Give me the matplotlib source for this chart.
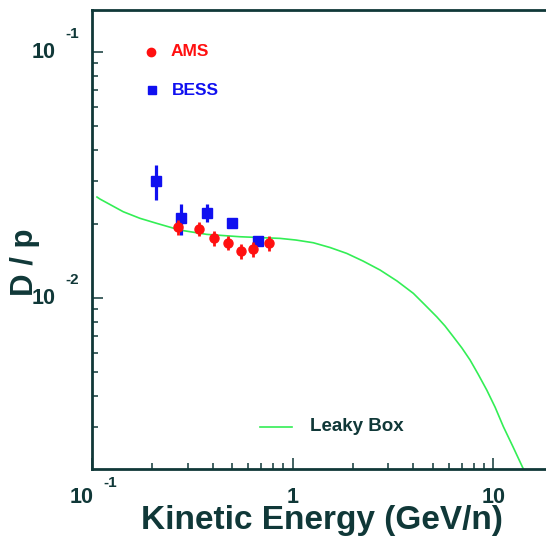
import numpy as np
import matplotlib
matplotlib.use("Agg")
import matplotlib.pyplot as plt
from matplotlib.ticker import LogLocator, NullFormatter

plt.rcParams['font.family'] = ['Liberation Sans', 'DejaVu Sans']
plt.rcParams['font.weight'] = 'bold'
plt.rcParams['axes.labelweight'] = 'bold'

# AMS points
ams_x = [0.269, 0.343, 0.407, 0.479, 0.556, 0.638, 0.767]
ams_y = [0.0194, 0.0191, 0.01754, 0.01674, 0.01553, 0.0158, 0.01674]
ams_err = [0.0013, 0.0012, 0.0012, 0.0011, 0.0011, 0.0011, 0.0012]

# BESS points
bess_x = [0.208, 0.277, 0.373, 0.498, 0.675]
bess_y = [0.0299, 0.0211, 0.0222, 0.0201, 0.01705]
bess_err = [0.0048, 0.0031, 0.0019, 0.0009, 0.0008]

# Leaky Box curve
lb_x = [0.1059, 0.1096, 0.1432, 0.1735, 0.2103, 0.2748, 0.3733, 0.547, 0.866,
        1.041, 1.27, 1.538, 1.863, 2.247, 2.732, 3.32, 4.004, 4.58, 5.239, 5.76,
        6.339, 7.0, 7.68, 8.42, 9.30, 10.24, 11.26, 12.59, 14.16, 15.0]
lb_y = [0.02574, 0.02526, 0.02243, 0.02109, 0.02012, 0.01889, 0.01815, 0.01775,
        0.01748, 0.01721, 0.01678, 0.01605, 0.01519, 0.01414, 0.0130, 0.01173,
        0.01045, 0.00937, 0.00839, 0.0077, 0.00696, 0.00626, 0.0056, 0.00491,
        0.00423, 0.0036, 0.0030, 0.00248, 0.00202, 0.0018]

dark = '#103838'
red = '#ff1010'
blue = '#1010f0'
green = '#33ee55'

W, H = 546, 539
fig = plt.figure(figsize=(W / 100, H / 100), dpi=100)
ax = fig.add_axes([92 / W, (H - 469) / H, 461.4 / W, 459 / H])

ax.set_xscale('log')
ax.set_yscale('log')
ax.set_xlim(0.1, 20)
ax.set_ylim(10 ** (-2.695), 10 ** (-0.829))

ax.plot(lb_x, lb_y, color=green, lw=1.2, zorder=2)
ax.errorbar(bess_x, bess_y, yerr=bess_err, fmt='s', color=blue, ms=7.5,
            elinewidth=2.3, capsize=0, zorder=3)
ax.errorbar(ams_x, ams_y, yerr=ams_err, fmt='o', color=red, ms=6.5,
            elinewidth=2.0, capsize=0, zorder=4)

# spines and ticks
for s in ['left', 'bottom', 'top']:
    ax.spines[s].set_color(dark)
    ax.spines[s].set_linewidth(2)
ax.spines['right'].set_visible(False)
ax.tick_params(which='both', direction='in', color=dark, width=1.1,
               top=False, right=False, labelbottom=False, labelleft=False)
ax.tick_params(which='major', length=8)
ax.tick_params(which='minor', length=4)
ax.xaxis.set_minor_locator(LogLocator(base=10, subs=np.arange(2, 10)))
ax.yaxis.set_minor_locator(LogLocator(base=10, subs=np.arange(2, 10)))
ax.xaxis.set_minor_formatter(NullFormatter())
ax.yaxis.set_minor_formatter(NullFormatter())

# ROOT style tick labels
xl = ('data', 'axes fraction')
yl = ('axes fraction', 'data')
ax.annotate('10', xy=(0.1, 0), xycoords=xl, xytext=(-7.5, -20.5), textcoords='offset points',
            ha='center', va='center', fontsize=15.5, color=dark)
ax.annotate('-1', xy=(0.1, 0), xycoords=xl, xytext=(13, -10), textcoords='offset points',
            ha='center', va='center', fontsize=11, color=dark)
ax.annotate('1', xy=(1, 0), xycoords=xl, xytext=(0, -20.5), textcoords='offset points',
            ha='center', va='center', fontsize=15.5, color=dark)
ax.annotate('10', xy=(10, 0), xycoords=xl, xytext=(0.5, -20.5), textcoords='offset points',
            ha='center', va='center', fontsize=15.5, color=dark)
for yv, ex in [(0.1, '-1'), (0.01, '-2')]:
    ax.annotate('10', xy=(0, yv), xycoords=yl, xytext=(-35, 0), textcoords='offset points',
                ha='center', va='center', fontsize=15.5, color=dark)
    ax.annotate(ex, xy=(0, yv), xycoords=yl, xytext=(-14.5, 13), textcoords='offset points',
                ha='center', va='center', fontsize=11, color=dark)

ax.set_xlabel('Kinetic Energy (GeV/n)', fontsize=24, color=dark, va='center', ha='center')
ax.xaxis.set_label_coords((322 - 92) / 461.4, -(520 - 469) / 459)
ax.set_ylabel('D / p', fontsize=22.5, color=dark, va='center', ha='center')
ax.yaxis.set_label_coords(-(92 - 25) / 461.4, (469 - 262) / 459)

# legend entries
ax.plot([0.128], [0.9085], 'o', color=red, ms=6, transform=ax.transAxes)
ax.text(0.171, 0.9085, 'AMS', color=red, fontsize=12.5, va='center', ha='left',
        transform=ax.transAxes)
ax.plot([0.130], [0.8257], 's', color=blue, ms=6, transform=ax.transAxes)
ax.text(0.173, 0.8257, 'BESS', color=blue, fontsize=12.5, va='center', ha='left',
        transform=ax.transAxes)
ax.plot([0.364, 0.4335], [0.0922, 0.0922], color=green, lw=1.2, transform=ax.transAxes)
ax.text(0.4725, 0.0922, 'Leaky Box', color=dark, fontsize=13.5, va='center', ha='left',
        transform=ax.transAxes)

fig.savefig('out.png', dpi=100)
